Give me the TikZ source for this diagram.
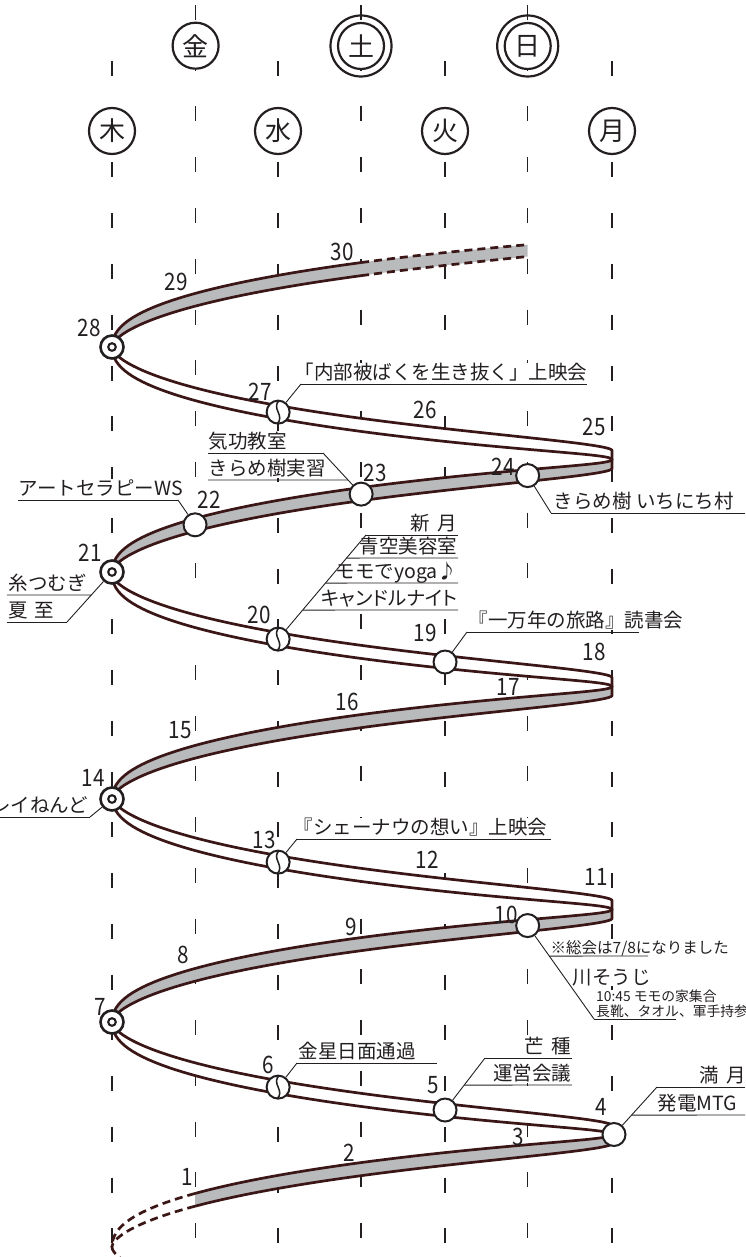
\documentclass[tikz,border=0pt]{standalone}
\usepackage{fontspec}
\newfontfamily\jpf{Noto Sans CJK JP}
\newfontfamily\jpp[RawFeature=+palt]{Noto Sans CJK JP}
\newfontfamily\numf[FakeStretch=0.86]{Noto Sans CJK JP}
\definecolor{ink}{HTML}{231F20}
\definecolor{edgec}{HTML}{3A1616}
\definecolor{bandg}{HTML}{B9BABC}

\pgfmathdeclarefunction{hx}{1}{\pgfmathparse{362-250*cos(#1)}}
\pgfmathdeclarefunction{hu}{1}{\pgfmathparse{(1-cos(#1))/2}}
\pgfmathdeclarefunction{hw}{1}{\pgfmathparse{13.2*(1-exp(-min(#1,90)/14.3))*(1-0.32*hu(#1)*hu(#1)*hu(#1)*hu(#1)*hu(#1)*hu(#1))}}
\pgfmathdeclarefunction{hs}{1}{\pgfmathparse{4.49*hu(#1)}}
\pgfmathdeclarefunction{hc}{2}{\pgfmathparse{#2-0.625*(#1)-24*sin(#1)}}
\pgfmathdeclarefunction{ft}{2}{\pgfmathparse{hc(#1,#2)+hs(#1)-hw(#1)/2}}
\pgfmathdeclarefunction{fb}{2}{\pgfmathparse{hc(#1,#2)+hs(#1)+hw(#1)/2}}
\pgfmathdeclarefunction{fm}{2}{\pgfmathparse{hc(#1,#2)+hs(#1)}}
\pgfmathdeclarefunction{bt}{2}{\pgfmathparse{hc(#1,#2)-hs(#1)-hw(360-#1)/2}}
\pgfmathdeclarefunction{bb}{2}{\pgfmathparse{hc(#1,#2)-hs(#1)+hw(360-#1)/2}}
\pgfmathdeclarefunction{bm}{2}{\pgfmathparse{hc(#1,#2)-hs(#1)}}

\newcommand\frontfill[3]{\fill[bandg] plot[domain=#2:#3,samples=70,variable=\t] ({hx(\t)},{ft(\t,#1)}) -- plot[domain=#3:#2,samples=70,variable=\t] ({hx(\t)},{fb(\t,#1)}) -- cycle;}
\newcommand\backfill[1]{\fill[white] plot[domain=180:360,samples=70,variable=\t] ({hx(\t)},{bt(\t,#1)}) -- plot[domain=360:180,samples=70,variable=\t] ({hx(\t)},{bb(\t,#1)}) -- cycle;}
\newcommand\weekedges[2]{%
 \draw[edge] plot[domain=#2:180,samples=70,variable=\t] ({hx(\t)},{fb(\t,#1)}) -- plot[domain=180:360,samples=70,variable=\t] ({hx(\t)},{bt(\t,#1)});
 \draw[edge] plot[domain=#2:180,samples=70,variable=\t] ({hx(\t)},{ft(\t,#1)}) -- plot[domain=180:360,samples=70,variable=\t] ({hx(\t)},{bb(\t,#1)});}

\begin{document}
\begin{tikzpicture}[x=1pt,y=-1pt,
  coldash/.style={draw=ink, line width=1.1pt, dash pattern=on 15pt off 35.75pt},
  wday/.style={circle, draw=ink, line width=2.2pt, fill=white, minimum size=46pt, inner sep=0pt, text=ink, font=\jpf\fontsize{26}{26}\selectfont},
  ring/.style={draw=ink, line width=2.2pt},
  edge/.style={draw=edgec, line width=2.7pt, line join=round},
  edgedash/.style={edge, dash pattern=on 8pt off 5pt},
  mk/.style={circle, draw=ink, fill=white, line width=2pt, minimum size=23pt, inner sep=0pt},
  mkthu/.style={mk, line width=2.6pt, path picture={\draw[ink, line width=2.1pt] (path picture bounding box.center) circle (3.8);}},
  mkwed/.style={mk, path picture={\draw[ink, line width=1.5pt, shift={(path picture bounding box.center)}] (1.5,-12) .. controls (-8,-4) and (8,4) .. (-1.5,12);}},
  lbl/.style={font=\jpf\fontsize{19.5}{20}\selectfont, text=ink, inner sep=0.5pt, fill=white},
  sml/.style={font=\jpf\fontsize{15.5}{16}\selectfont, text=ink, inner sep=0.5pt, fill=white},
  tiny/.style={font=\jpf\fontsize{13.8}{14}\selectfont, text=ink, inner sep=0pt},
  dnum/.style={font=\numf\fontsize{24}{25}\selectfont, text=ink, inner sep=0pt},
  lead/.style={draw=ink, line width=0.9pt}
]
\useasboundingbox (0,0) rectangle (745,1257);

% day columns
\foreach \cx in {195.6,361,527.7} \draw[coldash] (\cx,5) -- (\cx,1257);
\foreach \cx in {112,278,445,612} \draw[coldash] (\cx,61) -- (\cx,1257);

% weekday heads
\node[wday] (wkin) at (195.6,45.7) {金};
\node[wday] (wdo) at (361,46) {土};
\node[wday] (wnichi) at (527.7,46) {日};
\draw[ring] (wdo.center) circle (30.5);
\draw[ring] (wnichi.center) circle (30.5);
\node[wday] (wmoku) at (112,131) {木};
\node[wday] (wsui) at (278,131) {水};
\node[wday] (wka) at (445,131) {火};
\node[wday] (wgetsu) at (612,131) {月};

% ribbon fills
\frontfill{1247}{48.1}{180}
\backfill{1247}
\frontfill{1022}{0}{180}
\backfill{1022}
\frontfill{799}{0}{180}
\backfill{799}
\frontfill{572}{0}{180}
\backfill{572}
\frontfill{347}{0}{131.5}

% ribbon edges
\weekedges{1247}{48.1}
\weekedges{1022}{0}
\weekedges{799}{0}
\weekedges{572}{0}
\draw[edge] plot[domain=0:89.8,samples=50,variable=\t] ({hx(\t)},{ft(\t,347)});
\draw[edge] plot[domain=0:89.8,samples=50,variable=\t] ({hx(\t)},{fb(\t,347)});
\draw[edgedash] plot[domain=89.8:131.5,samples=30,variable=\t] ({hx(\t)},{ft(\t,347)});
\draw[edgedash] plot[domain=89.8:131.5,samples=30,variable=\t] ({hx(\t)},{fb(\t,347)});
\draw[edgedash] plot[domain=48.1:0,samples=30,variable=\t] ({hx(\t)},{ft(\t,1247)});
\draw[edgedash] plot[domain=48.1:0,samples=30,variable=\t] ({hx(\t)},{fb(\t,1247)});
\draw[edgedash] plot[domain=360:330,samples=20,variable=\t] ({hx(\t)},{bt(\t,1472)});

% markers
\node[mkthu] (m28) at (112,347) {};
\node[mkwed] (m27) at ({hx(289.6)},{bm(289.6,572)}) {};
\node[mk] (m24) at ({hx(131.5)},{fm(131.5,572)}) {};
\node[mk] (m23) at ({hx(89.8)},{fm(89.8,572)}) {};
\node[mk] (m22) at ({hx(48.1)},{fm(48.1,572)}) {};
\node[mkthu] (m21) at (112,572) {};
\node[mkwed] (m20) at ({hx(289.6)},{bm(289.6,799)}) {};
\node[mk] (m19) at ({hx(250.6)},{bm(250.6,799)}) {};
\node[mkthu] (m14) at (112,799) {};
\node[mkwed] (m13) at ({hx(289.6)},{bm(289.6,1022)}) {};
\node[mk] (m10) at ({hx(131.5)},{fm(131.5,1022)}) {};
\node[mkthu] (m7) at (112,1022) {};
\node[mkwed] (m6) at ({hx(289.6)},{bm(289.6,1247)}) {};
\node[mk] (m5) at ({hx(250.6)},{bm(250.6,1247)}) {};
\node[mk] (m4) at (614,1134.5) {};

% label 27
\node[lbl, anchor=base west] (t27) at (294,379.5) {「内部被ばくを生き抜く」上映会};
\coordinate (lt27) at (301,384);
\draw[lead] (lt27) -- (587,384);
\draw[lead] (m27) -- (lt27);

% label 23
\node[lbl, anchor=base west] (t23a) at (208,448.5) {気功教室};
\node[lbl, anchor=base west] (t23b) at (208,475.5) {きらめ樹実習};
\coordinate (lt23) at (323,453);
\coordinate (a23) at (0,480); \coordinate (b23) at (745,480);
\draw[lead] (208,453) -- (lt23);
\draw[lead] (lt23) -- (m23);
\draw[lead] (208,480) -- (intersection of lt23--m23 and a23--b23);

% label 22
\node[lbl, anchor=base west] (t22) at (18,495.5) {アートセラピーWS};
\coordinate (lt22) at (178,500);
\draw[lead] (18,500) -- (lt22);
\draw[lead] (lt22) -- (m22);

% label 24
\node[lbl, anchor=base west] (t24) at (553,508.5) {きらめ樹 いちにち村};
\coordinate (lt24) at (551,513);
\draw[lead] (lt24) -- (745,513);
\draw[lead] (m24) -- (lt24);

% label 21
\node[lbl, anchor=base west] (t21a) at (8,590.5) {糸つむぎ};
\node[lbl, anchor=base west] (t21b) at (8,617.5) {夏\hspace{6pt}至};
\coordinate (lt21) at (67,622);
\coordinate (a21) at (0,595); \coordinate (b21) at (745,595);
\draw[lead] (7,622) -- (lt21);
\draw[lead] (m21) -- (lt21);
\draw[lead] (7,595) -- (intersection of m21--lt21 and a21--b21);

% label 20
\node[lbl, anchor=base east] (t20a) at (458,530.5) {新\hspace{8pt}月};
\node[lbl, anchor=base east] (t20b) at (458,553.5) {青空美容室};
\node[lbl, anchor=base east] (t20c) at (458,578.5) {モモでyoga♪};
\node[lbl, anchor=base east, font=\jpp\fontsize{19.5}{20}\selectfont] (t20d) at (458,605.5) {キャンドルナイト};
\coordinate (lt20) at (366,535);
\coordinate (a20b) at (0,558); \coordinate (b20b) at (745,558);
\coordinate (a20c) at (0,583); \coordinate (b20c) at (745,583);
\coordinate (a20d) at (0,610); \coordinate (b20d) at (745,610);
\draw[lead] (lt20) -- (458,535);
\draw[lead] (lt20) -- (m20);
\draw[lead] (intersection of lt20--m20 and a20b--b20b) -- (458,558);
\draw[lead] (intersection of lt20--m20 and a20c--b20c) -- (458,583);
\draw[lead] (intersection of lt20--m20 and a20d--b20d) -- (458,610);

% label 19
\node[lbl, anchor=base west] (t19) at (468,627.5) {『一万年の旅路』読書会};
\coordinate (lt19) at (467,632);
\draw[lead] (lt19) -- (639,632);
\draw[lead] (m19) -- (lt19);

% label 14
\node[lbl, anchor=base east] (t14) at (89,812.5) {クレイねんど};
\coordinate (lt14) at (90,817);
\draw[lead] (0,817) -- (lt14);
\draw[lead] (lt14) -- (m14);

% label 13
\node[lbl, anchor=base west] (t13) at (293,834.5) {『シェーナウの想い』上映会};
\coordinate (lt13) at (297,839);
\draw[lead] (lt13) -- (551,839);
\draw[lead] (m13) -- (lt13);

% label 10
\node[sml, anchor=base west] (t10a) at (550,953) {※総会は7/8になりました};
\node[lbl, anchor=base west] (t10b) at (572,984) {川そうじ};
\node[tiny, anchor=base west] (t10c) at (596,1001) {10:45 モモの家集合};
\node[tiny, anchor=base west] (t10d) at (596,1016) {長靴、タオル、軍手持参};
\coordinate (lt10) at (594,1019);
\coordinate (a10) at (0,956); \coordinate (b10) at (745,956);
\draw[lead] (lt10) -- (676,1019);
\draw[lead] (m10) -- (lt10);
\draw[lead] (intersection of m10--lt10 and a10--b10) -- (648,956);

% label 6
\node[lbl, anchor=base west] (t6) at (298,1058.5) {金星日面通過};
\coordinate (lt6) at (297,1063);
\draw[lead] (lt6) -- (437,1063);
\draw[lead] (m6) -- (lt6);

% label 5
\node[lbl, anchor=base east] (t5a) at (572,1053.5) {芒\hspace{8pt}種};
\node[lbl, anchor=base east] (t5b) at (572,1080.5) {運営会議};
\coordinate (lt5) at (485,1058);
\coordinate (a5) at (0,1085); \coordinate (b5) at (745,1085);
\draw[lead] (lt5) -- (572,1058);
\draw[lead] (m5) -- (lt5);
\draw[lead] (intersection of m5--lt5 and a5--b5) -- (572,1085);

% label 4
\node[lbl, anchor=base east] (t4a) at (747,1082.5) {満\hspace{8pt}月};
\node[lbl, anchor=base west] (t4b) at (657,1110.5) {発電MTG};
\coordinate (lt4) at (657,1087);
\coordinate (a4) at (0,1115); \coordinate (b4) at (745,1115);
\draw[lead] (lt4) -- (745,1087);
\draw[lead] (m4) -- (lt4);
\draw[lead] (intersection of m4--lt4 and a4--b4) -- (745,1115);

% day numbers
\node[dnum] (d1) at (187,1177) {1};
\node[dnum] (d2) at (349,1153) {2};
\node[dnum] (d3) at (518,1137) {3};
\node[dnum] (d4) at (601,1107) {4};
\node[dnum] (d5) at (433,1085) {5};
\node[dnum] (d6) at (268,1065) {6};
\node[dnum] (d7) at (100,1007) {7};
\node[dnum] (d8) at (183,955) {8};
\node[dnum] (d9) at (351,927) {9};
\node[dnum] (d10) at (506,915) {10};
\node[dnum] (d11) at (596,877) {11};
\node[dnum] (d12) at (427,860) {12};
\node[dnum] (d13) at (264,840) {13};
\node[dnum] (d14) at (93,778) {14};
\node[dnum] (d15) at (180,730) {15};
\node[dnum] (d16) at (347,702) {16};
\node[dnum] (d17) at (508,687) {17};
\node[dnum] (d18) at (594,652) {18};
\node[dnum] (d19) at (425,633) {19};
\node[dnum] (d20) at (259,615) {20};
\node[dnum] (d21) at (90,553) {21};
\node[dnum] (d22) at (209,500) {22};
\node[dnum] (d23) at (375,473) {23};
\node[dnum] (d24) at (503,467) {24};
\node[dnum] (d25) at (594,427) {25};
\node[dnum] (d26) at (425,410) {26};
\node[dnum] (d27) at (260,392) {27};
\node[dnum] (d28) at (89,328) {28};
\node[dnum] (d29) at (176,282) {29};
\node[dnum] (d30) at (342,252) {30};
\end{tikzpicture}
\end{document}
